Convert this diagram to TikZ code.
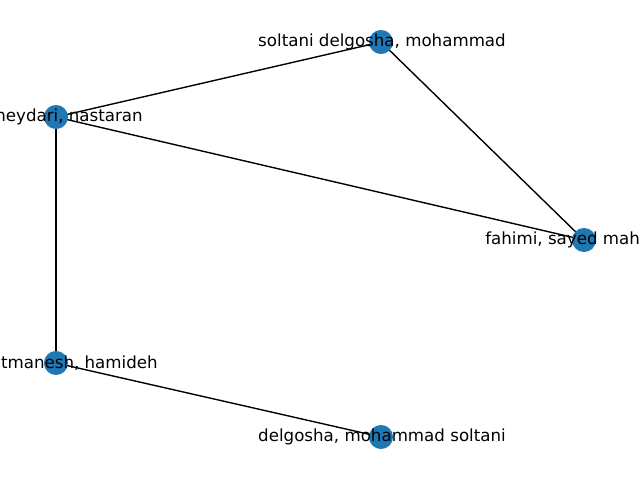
\documentclass[tikz,border=0pt]{standalone}
\usepackage{fontspec}
\setmainfont{DejaVu Sans}
\usetikzlibrary{positioning,backgrounds}
\definecolor{nxblue}{HTML}{1F77B4}

\begin{document}
\begin{tikzpicture}[x=0.72pt, y=-0.72pt, every node/.style={font=\fontsize{12pt}{14pt}\selectfont}]
  \tikzset{
    author/.style={circle, fill=nxblue, inner sep=0pt, minimum size=17.3pt},
    link/.style={draw=black, line width=1pt},
    authorname/.style={inner sep=0pt, text=black}
  }
  \useasboundingbox (0,0) rectangle (640,480);
  \clip (0,0) rectangle (640,480);

  % author nodes
  \node[author] (soltani) at (381,42)  {};
  \node[author] (heydari) at (56,117)  {};
  \node[author] (fahimi)  at (584,240) {};
  \node[author] (hamideh) at (56,363)  {};
  \node[author] (delgosha) at (381,437) {};

  % co-author links, behind the nodes
  \begin{scope}[on background layer]
    \foreach \a/\b in {heydari/soltani, heydari/fahimi, soltani/fahimi, heydari/hamideh, hamideh/delgosha}
      \draw[link] (\a.center) -- (\b.center);
  \end{scope}

  % labels
  \node[authorname] (soltanilbl)  at (382,42)  {soltani delgosha, mohammad};
  \node[authorname, anchor=east] (heydarilbl) at (143,117) {heydari, nastaran};
  \node[authorname, anchor=west] (fahimilbl) at (485,240) {fahimi, sayed mahm};
  \node[authorname, anchor=east] (hamidehlbl) at (158,363) {tmanesh, hamideh};
  \node[authorname] (delgoshalbl) at (382,437) {delgosha, mohammad soltani};
\end{tikzpicture}
\end{document}
